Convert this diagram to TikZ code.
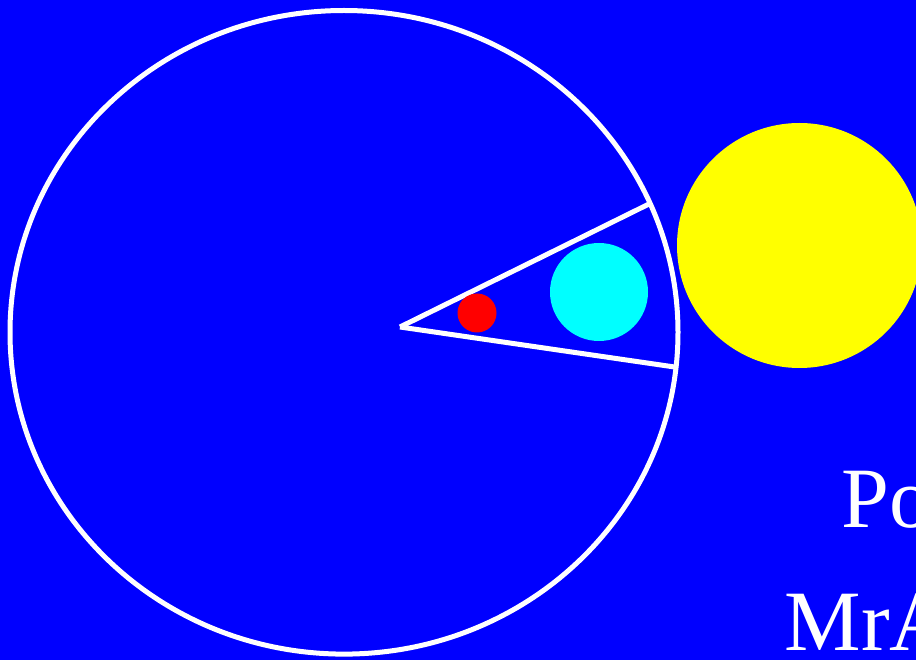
\documentclass[tikz,border=0pt]{standalone}
\usepackage{fontspec}
\setmainfont{Liberation Serif}
\begin{document}
\begin{tikzpicture}[x=1pt,y=-1pt,
  wline/.style={draw=white,line width=5pt},
  bigtext/.style={text=white,font=\fontsize{86}{86}\selectfont,inner sep=0pt,anchor=base west}]
\definecolor{bg}{RGB}{0,0,255}
\definecolor{pcyan}{RGB}{0,255,255}
\definecolor{pyellow}{RGB}{255,255,0}
\definecolor{pred}{RGB}{255,0,0}
\useasboundingbox (0,0) rectangle (916,660);
\clip (0,0) rectangle (916,660);
\fill[bg] (0,0) rectangle (916,660);
\coordinate (O) at (344,332.3);
\draw[white,line width=5pt] (O) ellipse[x radius=334,y radius=321.8];
\fill[pyellow] (799.5,245.5) circle[radius=122.5];
\coordinate (V) at (400,327);
\coordinate (A) at (649,204);
\coordinate (B) at (678,367.5);
\draw[wline] (V) -- (A);
\draw[wline] (V) -- (B);
\fill[pred] (477,313) circle[radius=19.5];
\fill[pcyan] (599,292) circle[radius=49];
\node[bigtext] (t1) at (841.5,527) {Po};
\node[bigtext] (t2) at (784.5,650) {MrA};
\end{tikzpicture}
\end{document}
